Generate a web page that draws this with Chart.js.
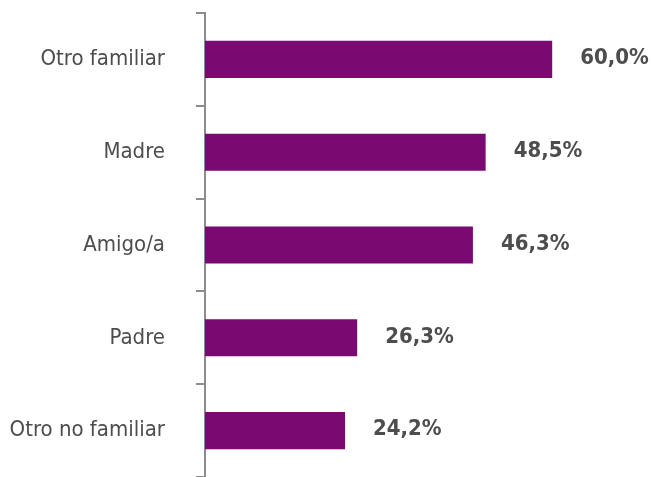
<!DOCTYPE html>
<html>
<head>
<script src="https://cdn.jsdelivr.net/npm/chart.js@4.4.1/dist/chart.umd.min.js"></script>
<style>
	body { margin: 0; background: #fff; }
	#wrap { width: 651px; height: 477px; }
</style>
</head>
<body>
<div id="wrap"><canvas id="barChart"></canvas></div>

<script>
var categories = ["Otro familiar", "Madre", "Amigo/a", "Padre", "Otro no familiar"];
var percentages = [60.0, 48.5, 46.3, 26.3, 24.2];

var fontName = "'Liberation Sans Narrow', 'DejaVu Sans Condensed', sans-serif";

// writes the value just right of each bar
var valueLabels = {
	id: 'valueLabels',
	afterDatasetsDraw: function(chart) {
		var ctx = chart.ctx;
		var meta = chart.getDatasetMeta(0);
		ctx.save();
		ctx.font = "bold 22px " + fontName;
		ctx.fillStyle = "#4d4d4d";
		ctx.textBaseline = "middle";
		ctx.textAlign = "left";
		meta.data.forEach(function(bar, i) {
			var txt = percentages[i].toFixed(1).replace('.', ',') + '%';
			ctx.fillText(txt, bar.x + 28, bar.y - 1);
		});
		ctx.restore();
	}
};

var ctx = document.getElementById('barChart').getContext('2d');
var chart = new Chart(ctx, {
	type: 'bar',
	data: {
		labels: categories,
		datasets: [{
			data: percentages,
			backgroundColor: '#7a0a72',
			categoryPercentage: 1.0,
			barPercentage: 0.4
		}]
	},
	options: {
		indexAxis: 'y',
		responsive: true,
		maintainAspectRatio: false,
		animation: false,
		layout: { padding: { top: 13, right: 12, bottom: -3, left: 0 } },
		plugins: {
			legend: { display: false },
			tooltip: { enabled: false }
		},
		scales: {
			x: {
				display: false,
				min: 0,
				max: 75
			},
			y: {
				afterFit: function(scale) {
					scale.width = 205;
					scale.paddingTop = 0;
					scale.paddingBottom = 0;
				},
				border: { display: true, color: '#8c8c8c', width: 2 },
				grid: {
					offset: true,
					drawOnChartArea: false,
					drawTicks: true,
					tickLength: 9,
					color: '#8c8c8c',
					lineWidth: 2
				},
				ticks: {
					padding: 31,
					color: '#4d4d4d',
					font: { family: fontName, size: 22 }
				}
			}
		}
	},
	plugins: [valueLabels]
});
</script>
</body>
</html>
